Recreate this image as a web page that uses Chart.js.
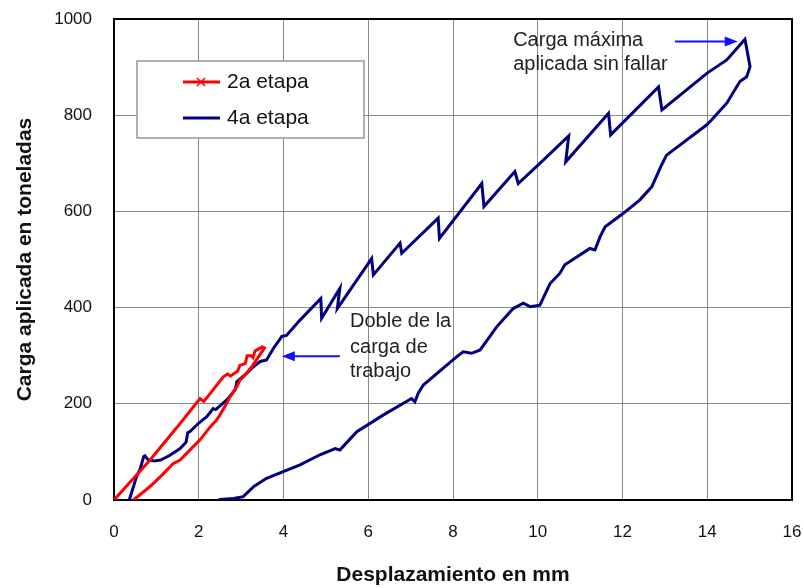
<!DOCTYPE html>
<html>
<head>
<meta charset="utf-8">
<script src="https://cdn.jsdelivr.net/npm/chart.js@4.4.1/dist/chart.umd.min.js"></script>
<style>
  html, body { margin: 0; padding: 0; background: #fff; }
  canvas { display: block; }
</style>
</head>
<body>
<canvas id="chart" width="804" height="588"></canvas>
<script>
// 2a etapa: load then unload
const etapa2X = [0, 0.85, 1.56, 2.03, 2.12, 2.22, 2.58, 2.68, 2.75, 2.92, 2.97, 3.10, 3.14, 3.24, 3.28, 3.33, 3.50, 3.55,
  3.52, 3.25, 3.05, 2.97, 2.90, 2.74, 2.66, 2.50, 2.42, 2.27, 2.03, 1.87, 1.56, 1.40, 1.09, 0.85, 0.46];
const etapa2Y = [0, 83, 159, 211, 205, 216, 256, 262, 258, 268, 280, 284, 300, 300, 296, 310, 318, 316,
  312, 277, 256, 249, 236, 215, 201, 177, 166, 152, 125, 111, 83, 76, 48, 28, 0];

// 4a etapa: load with saw-teeth up to the max, then unload
const etapa4X = [0.36, 0.46, 0.53, 0.62, 0.70, 0.73, 0.80, 0.95, 1.10, 1.30, 1.56, 1.70, 1.74, 1.80, 2.00, 2.19, 2.34, 2.40,
  2.66, 2.86, 2.90, 3.13, 3.29, 3.45, 3.60, 3.76, 3.96, 4.07, 4.39, 4.88, 4.90, 5.33, 5.27, 6.08, 6.12, 6.75, 6.79,
  7.65, 7.68, 8.68, 8.73, 9.46, 9.54, 10.05, 10.73, 10.66, 11.67, 11.72, 12.85, 12.93, 13.99, 14.46, 14.89, 15.01,
  14.93, 14.77, 14.46, 14.10, 13.99, 13.04, 12.92, 12.69, 12.41, 12.02, 11.59, 11.47, 11.35, 11.23, 10.64, 10.52,
  10.29, 10.05, 9.82, 9.66, 9.42, 9.03, 8.64, 8.44, 8.24, 8.09, 7.30, 7.18, 7.10, 7.02, 6.36, 5.73, 5.33, 5.22,
  4.86, 4.39, 3.60, 3.30, 3.05, 2.82, 2.50, 2.44];
const etapa4Y = [0, 28, 48, 65, 90, 92, 84, 81, 83, 92, 107, 120, 140, 143, 160, 173, 190, 188,
  208, 229, 246, 263, 277, 288, 291, 315, 340, 342, 374, 419, 378, 440, 398, 502, 468, 534, 513,
  586, 544, 658, 610, 683, 658, 700, 757, 703, 804, 759, 859, 811, 887, 915, 958, 901,
  880, 870, 825, 790, 780, 717, 696, 651, 624, 596, 568, 547, 520, 523, 489, 471,
  450, 405, 402, 409, 398, 360, 312, 305, 308, 298, 239, 222, 204, 211, 177, 142, 104, 107,
  94, 73, 45, 28, 7, 3, 1, -2];

const seriesNames = ["2a etapa", "4a etapa"];
const seriesColors = ["#ff0000", "#000080"];

const FONT = "'Liberation Sans', Arial, sans-serif";

function toPoints(xs, ys) {
  return xs.map((x, i) => ({ x: x, y: ys[i] }));
}

function arrow(ctx, x1, y1, x2, y2) {
  const ang = Math.atan2(y2 - y1, x2 - x1);
  ctx.beginPath();
  ctx.moveTo(x1, y1);
  ctx.lineTo(x2 - 8 * Math.cos(ang), y2 - 8 * Math.sin(ang));
  ctx.stroke();
  ctx.beginPath();
  ctx.moveTo(x2, y2);
  ctx.lineTo(x2 - 13 * Math.cos(ang) + 5 * Math.sin(ang), y2 - 13 * Math.sin(ang) - 5 * Math.cos(ang));
  ctx.lineTo(x2 - 13 * Math.cos(ang) - 5 * Math.sin(ang), y2 - 13 * Math.sin(ang) + 5 * Math.cos(ang));
  ctx.closePath();
  ctx.fill();
}

const framePlugin = {
  id: "frame",
  beforeDatasetsDraw(chart) {
    const { ctx, chartArea: a } = chart;
    ctx.save();
    ctx.strokeStyle = "#000";
    ctx.lineWidth = 2;
    ctx.strokeRect(a.left, a.top, a.right - a.left, a.bottom - a.top);
    ctx.restore();
  }
};

const notesPlugin = {
  id: "notes",
  afterDatasetsDraw(chart) {
    const { ctx } = chart;
    const xs = chart.scales.x, ys = chart.scales.y;
    const px = v => xs.getPixelForValue(v);
    const py = v => ys.getPixelForValue(v);
    ctx.save();
    ctx.fillStyle = "#222";
    ctx.font = "20px " + FONT;
    ctx.textBaseline = "middle";
    ctx.textAlign = "left";
    ctx.fillText("Carga máxima", px(9.42), py(956));
    ctx.fillText("aplicada sin fallar", px(9.42), py(906));
    ctx.fillText("Doble de la", px(5.57), py(372));
    ctx.fillText("carga de", px(5.57), py(317));
    ctx.fillText("trabajo", px(5.57), py(268));
    ctx.strokeStyle = "#1010ff";
    ctx.fillStyle = "#1010ff";
    ctx.lineWidth = 2;
    arrow(ctx, px(13.24), py(953), px(14.72), py(953));
    arrow(ctx, px(5.33), py(299), px(3.96), py(299));

    // legend box
    const bx = 137, by = 61, bw = 227, bh = 77;
    ctx.fillStyle = "#fff";
    ctx.fillRect(bx, by, bw, bh);
    ctx.strokeStyle = "#999";
    ctx.lineWidth = 1.5;
    ctx.strokeRect(bx, by, bw, bh);
    const rows = [82, 118];
    seriesNames.forEach((name, i) => {
      ctx.strokeStyle = seriesColors[i];
      ctx.lineWidth = 3;
      ctx.beginPath();
      ctx.moveTo(183, rows[i]);
      ctx.lineTo(220, rows[i]);
      ctx.stroke();
      if (i === 0) {
        ctx.lineWidth = 1.5;
        ctx.beginPath();
        ctx.moveTo(197, rows[i] - 4); ctx.lineTo(205, rows[i] + 4);
        ctx.moveTo(205, rows[i] - 4); ctx.lineTo(197, rows[i] + 4);
        ctx.stroke();
      }
      ctx.fillStyle = "#111";
      ctx.font = "21px " + FONT;
      ctx.fillText(name, 227, rows[i]);
    });
    ctx.restore();
  }
};

new Chart(document.getElementById("chart"), {
  type: "scatter",
  data: {
    datasets: [
      {
        label: seriesNames[0],
        data: toPoints(etapa2X, etapa2Y),
        showLine: true,
        borderColor: seriesColors[0],
        backgroundColor: seriesColors[0],
        borderWidth: 3,
        pointRadius: 0,
        tension: 0
      },
      {
        label: seriesNames[1],
        data: toPoints(etapa4X, etapa4Y),
        showLine: true,
        borderColor: seriesColors[1],
        backgroundColor: seriesColors[1],
        borderWidth: 3,
        pointRadius: 0,
        tension: 0
      }
    ]
  },
  options: {
    responsive: false,
    animation: false,
    layout: { padding: { left: 0, right: 12, top: 19, bottom: 0 } },
    plugins: {
      legend: { display: false },
      tooltip: { enabled: false }
    },
    scales: {
      x: {
        type: "linear",
        min: 0, max: 16,
        ticks: { stepSize: 2, color: "#111", font: { family: FONT, size: 17 }, padding: 22 },
        grid: { color: "#8a8a8a", lineWidth: 1, drawTicks: false },
        border: { display: false },
        title: { display: true, text: "Desplazamiento en mm", color: "#111",
          font: { family: FONT, size: 21, weight: "bold" }, padding: { top: 0, bottom: 0 } },
        afterFit: s => { s.height = 88; s.paddingLeft = 0; s.paddingRight = 0; }
      },
      y: {
        type: "linear",
        min: 0, max: 1000,
        ticks: { stepSize: 200, color: "#111", font: { family: FONT, size: 17 }, padding: 22,
          callback: v => String(v) },
        grid: { color: "#8a8a8a", lineWidth: 1, drawTicks: false },
        border: { display: false },
        title: { display: true, text: "Carga aplicada en toneladas", color: "#111",
          font: { family: FONT, size: 21, weight: "bold" }, padding: { top: 13, bottom: 0 } },
        afterFit: s => { s.width = 114; s.paddingTop = 0; s.paddingBottom = 0; }
      }
    }
  },
  plugins: [framePlugin, notesPlugin]
});
</script>
</body>
</html>
